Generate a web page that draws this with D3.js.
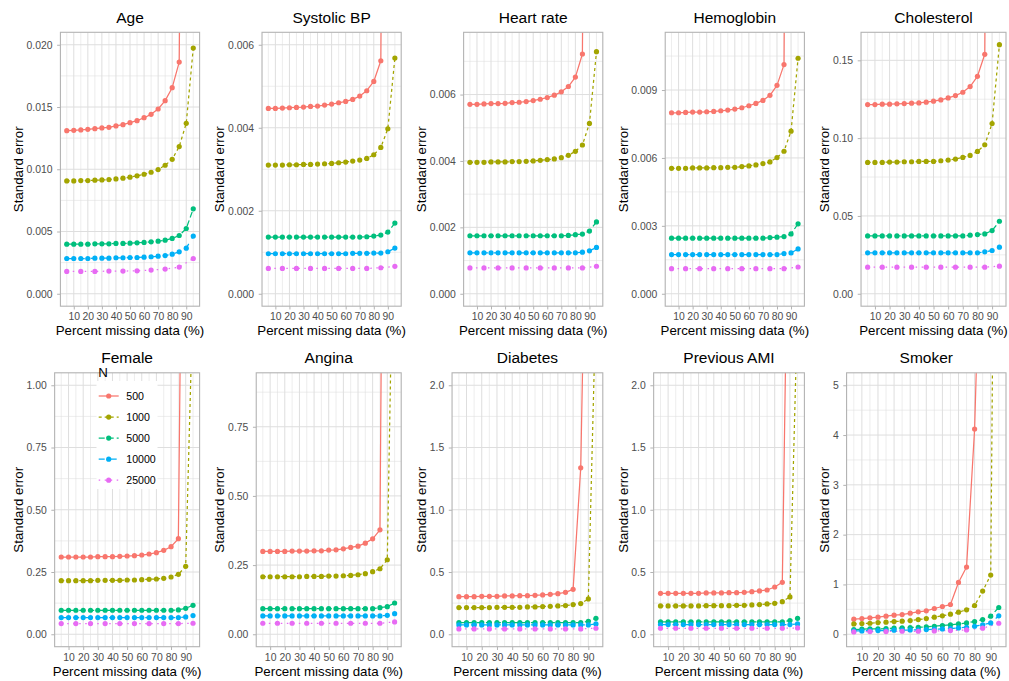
<!DOCTYPE html>
<html><head><meta charset="utf-8">
<script src="https://cdn.jsdelivr.net/npm/d3@7"></script>
<style>
html,body{margin:0;padding:0;background:#fff;}
</style></head><body>
<svg id="chart" width="1009" height="681"></svg>
<script>
// ---------------- data ----------------
const pctAll = [5,10,15,20,25,30,35,40,45,50,55,60,65,70,75,80,85,90,95];
const pctOdd = [5,15,25,35,45,55,65,75,85,95];
const xTickValues = [10,20,30,40,50,60,70,80,90];
const sampleSizes = ["500","1000","5000","10000","25000"];
const seriesColors = ["#F8766D","#A3A500","#00BF7D","#00B0F6","#E76BF3"];
const seriesDash = [null,"3,3","6,3","6,6","1.5,4.5"];
const panelTitles = ["Age","Systolic BP","Heart rate","Hemoglobin","Cholesterol",
                     "Female","Angina","Diabetes","Previous AMI","Smoker"];
const yLimits = [0.02, 0.006, 0.0075, 0.011, 0.16, 1.0, 0.9, 2.0, 2.0, 5.0];
const yTickValues = [
  [0,0.005,0.01,0.015,0.02],
  [0,0.002,0.004,0.006],
  [0,0.002,0.004,0.006],
  [0,0.003,0.006,0.009],
  [0,0.05,0.10,0.15],
  [0,0.25,0.5,0.75,1.0],
  [0,0.25,0.5,0.75],
  [0,0.5,1.0,1.5,2.0],
  [0,0.5,1.0,1.5,2.0],
  [0,1,2,3,4,5]
];
const yTickFormats = [".3f",".3f",".3f",".3f",".2f",".2f",".2f",".1f",".1f",".0f"];

// Standard errors: [N=500, N=1000, N=5000, N=10000, N=25000]
const seAge = [
  [0.01310,0.01313,0.01316,0.01321,0.01326,0.01332,0.01337,0.01348,0.01358,0.01374,0.01390,0.01414,0.01441,0.01484,0.01551,0.01655,0.01861,0.09],
  [0.00906,0.00906,0.00909,0.00909,0.00912,0.00914,0.00917,0.00922,0.00928,0.00936,0.00947,0.00960,0.00976,0.00997,0.01032,0.01080,0.01182,0.01369,0.01973],
  [0.00398,0.00398,0.00398,0.00398,0.00401,0.00401,0.00401,0.00404,0.00404,0.00406,0.00409,0.00412,0.00417,0.00422,0.00430,0.00444,0.00468,0.00524,0.00682],
  [0.00283,0.00283,0.00283,0.00283,0.00286,0.00286,0.00286,0.00289,0.00289,0.00291,0.00291,0.00294,0.00297,0.00302,0.00307,0.00318,0.00337,0.00366,0.00463],
  [0.00179,0.00179,0.00179,0.00182,0.00182,0.00184,0.00190,0.00198,0.00214,0.00283]
];
const seSystolicBP = [
  [0.004466,0.004466,0.004474,0.004482,0.00449,0.004498,0.004514,0.004522,0.004546,0.00457,0.004602,0.004635,0.004683,0.004763,0.004892,0.005116,0.005614,0.03],
  [0.0031,0.0031,0.0031,0.003108,0.003108,0.003116,0.003116,0.003124,0.003133,0.003141,0.003157,0.003173,0.003197,0.003221,0.003261,0.003349,0.003526,0.003976,0.005679],
  [0.001365,0.001365,0.001365,0.001365,0.001365,0.001365,0.001365,0.001365,0.001365,0.001365,0.001365,0.001365,0.001365,0.001365,0.001373,0.00139,0.001414,0.001486,0.001703],
  [0.000964,0.000964,0.000964,0.000964,0.000964,0.000964,0.000964,0.000964,0.000964,0.000964,0.000964,0.000964,0.000972,0.000972,0.000972,0.00098,0.00098,0.001012,0.0011],
  [0.00061,0.00061,0.00061,0.00061,0.00061,0.00061,0.00061,0.00061,0.000626,0.00066]
];
const seHeartRate = [
  [0.005707,0.005707,0.005717,0.005727,0.005727,0.005737,0.005758,0.005768,0.005788,0.005818,0.005859,0.005909,0.00598,0.006081,0.006242,0.006525,0.007222,0.04],
  [0.00396,0.00396,0.00396,0.00397,0.00397,0.00397,0.00398,0.00398,0.00399,0.0040,0.00402,0.00404,0.00406,0.0041,0.00417,0.00429,0.00448,0.00513,0.00729],
  [0.001747,0.001747,0.001747,0.001747,0.001747,0.001747,0.001747,0.001747,0.001747,0.001747,0.001747,0.001747,0.001747,0.001747,0.001758,0.001778,0.001798,0.001889,0.002162],
  [0.001232,0.001232,0.001232,0.001232,0.001232,0.001232,0.001232,0.001232,0.001232,0.001232,0.001232,0.001232,0.001232,0.001232,0.001232,0.001232,0.001252,0.001293,0.001394],
  [0.000778,0.000778,0.000778,0.000778,0.000778,0.000778,0.000778,0.000778,0.000778,0.000828]
];
const seHemoglobin = [
  [0.007995,0.007995,0.00801,0.008025,0.008025,0.00804,0.008054,0.008084,0.008113,0.008158,0.008217,0.008305,0.008409,0.008542,0.008764,0.009207,0.010123,0.06],
  [0.005542,0.005542,0.005542,0.005557,0.005557,0.005557,0.005571,0.005571,0.005586,0.005586,0.005616,0.005645,0.00569,0.005749,0.005823,0.006015,0.006296,0.007182,0.010404],
  [0.002453,0.002453,0.002453,0.002453,0.002453,0.002453,0.002453,0.002453,0.002453,0.002453,0.002453,0.002453,0.002453,0.002453,0.002483,0.002498,0.002527,0.002645,0.003089],
  [0.001729,0.001729,0.001729,0.001729,0.001729,0.001729,0.001729,0.001729,0.001729,0.001729,0.001729,0.001729,0.001729,0.001729,0.001729,0.001729,0.001773,0.001803,0.00198],
  [0.001108,0.001108,0.001108,0.001108,0.001108,0.001108,0.001108,0.001108,0.001108,0.001182]
];
const seCholesterol = [
  [0.12158,0.12158,0.1218,0.1218,0.12201,0.12222,0.12244,0.12265,0.12308,0.12372,0.12457,0.12585,0.12735,0.12949,0.13312,0.13974,0.15385,0.9],
  [0.0844,0.0844,0.0844,0.08462,0.08462,0.08483,0.08483,0.08504,0.08504,0.08504,0.08547,0.0859,0.08654,0.08761,0.08889,0.09145,0.09573,0.1094,0.16004],
  [0.03718,0.03718,0.03718,0.03718,0.03718,0.03718,0.03718,0.03718,0.03718,0.03718,0.03718,0.03718,0.03718,0.03718,0.03761,0.03803,0.03846,0.0406,0.04658],
  [0.02628,0.02628,0.02628,0.02628,0.02628,0.02628,0.02628,0.02628,0.02628,0.02628,0.02628,0.02628,0.02628,0.02628,0.02628,0.02628,0.02692,0.02778,0.02991],
  [0.01709,0.01709,0.01709,0.01709,0.01709,0.01709,0.01709,0.01709,0.01709,0.01774]
];
const seFemale = [
  [0.3102,0.3102,0.3102,0.3102,0.3102,0.3115,0.3115,0.3115,0.3128,0.3142,0.3155,0.3182,0.3222,0.3275,0.3369,0.3516,0.3837,3.3],
  [0.2152,0.2152,0.2152,0.2152,0.2152,0.2166,0.2166,0.2166,0.2166,0.2179,0.2179,0.2193,0.2206,0.2219,0.2246,0.2299,0.2406,0.2727,1.36],
  [0.0963,0.0963,0.0963,0.0963,0.0963,0.0963,0.0963,0.0963,0.0963,0.0963,0.0963,0.0963,0.0963,0.0963,0.0963,0.0963,0.0976,0.1043,0.1163],
  [0.0668,0.0668,0.0668,0.0668,0.0668,0.0668,0.0668,0.0668,0.0668,0.0668,0.0668,0.0668,0.0668,0.0668,0.0668,0.0668,0.0668,0.0695,0.0749],
  [0.0428,0.0428,0.0428,0.0428,0.0428,0.0428,0.0428,0.0428,0.0428,0.0441]
];
const seAngina = [
  [0.2993,0.2993,0.2993,0.2993,0.3005,0.3005,0.3005,0.3017,0.3017,0.3041,0.3053,0.3089,0.3137,0.3185,0.3293,0.345,0.3774,4.0],
  [0.2079,0.2079,0.2079,0.2079,0.2079,0.2079,0.2091,0.2091,0.2091,0.2103,0.2103,0.2115,0.2127,0.2151,0.2188,0.226,0.2368,0.2692,1.77],
  [0.0925,0.0925,0.0925,0.0925,0.0925,0.0925,0.0925,0.0925,0.0925,0.0925,0.0925,0.0925,0.0925,0.0925,0.0925,0.0925,0.0961,0.0998,0.113],
  [0.0661,0.0661,0.0661,0.0661,0.0661,0.0661,0.0661,0.0661,0.0661,0.0661,0.0661,0.0661,0.0661,0.0661,0.0661,0.0661,0.0661,0.0685,0.0745],
  [0.0397,0.0397,0.0397,0.0397,0.0397,0.0397,0.0397,0.0397,0.0397,0.0445]
];
const seDiabetes = [
  [0.3021,0.3021,0.3021,0.3048,0.3048,0.3048,0.3075,0.3075,0.3102,0.3102,0.3128,0.3155,0.3209,0.3262,0.3369,0.361,1.337,4.6],
  [0.2139,0.2139,0.2139,0.2139,0.2139,0.2166,0.2166,0.2166,0.2166,0.2193,0.2193,0.2219,0.2246,0.2273,0.23,0.238,0.246,0.2834,2.68],
  [0.0936,0.0936,0.0936,0.0936,0.0936,0.0936,0.0936,0.0936,0.0936,0.0936,0.0936,0.0936,0.0936,0.0936,0.0936,0.0936,0.0936,0.104,0.128],
  [0.0749,0.0749,0.0749,0.0749,0.0749,0.0749,0.0749,0.0749,0.0749,0.0749,0.0749,0.0749,0.0749,0.0749,0.0749,0.0749,0.0749,0.0749,0.083],
  [0.0428,0.0428,0.0428,0.0428,0.0428,0.0428,0.0428,0.0428,0.0428,0.048]
];
const sePreviousAMI = [
  [0.3289,0.3289,0.3289,0.3289,0.3289,0.3289,0.3316,0.3316,0.3316,0.3342,0.3342,0.3369,0.3422,0.3476,0.3556,0.3797,0.4171,4.57],
  [0.2273,0.2273,0.2273,0.2273,0.2273,0.2273,0.2299,0.2299,0.2299,0.2299,0.2326,0.2326,0.2353,0.238,0.2433,0.2487,0.262,0.2995,2.64],
  [0.0989,0.0989,0.0989,0.0989,0.0989,0.0989,0.0989,0.0989,0.0989,0.0989,0.0989,0.0989,0.0989,0.0989,0.0989,0.0989,0.0989,0.1096,0.1283],
  [0.0775,0.0775,0.0775,0.0775,0.0775,0.0775,0.0775,0.0775,0.0775,0.0775,0.0775,0.0775,0.0775,0.0775,0.0775,0.0775,0.0775,0.0775,0.083],
  [0.0481,0.0481,0.0481,0.0481,0.0481,0.0481,0.0481,0.0481,0.0481,0.0508]
];
const seSmoker = [
  [0.302,0.315,0.329,0.342,0.362,0.383,0.396,0.423,0.45,0.47,0.517,0.557,0.597,1.04,1.349,4.121,9.7],
  [0.208,0.215,0.221,0.235,0.242,0.255,0.262,0.275,0.295,0.315,0.342,0.369,0.403,0.443,0.49,0.577,0.866,1.188,20],
  [0.094,0.101,0.107,0.107,0.114,0.121,0.128,0.134,0.141,0.148,0.161,0.174,0.188,0.208,0.228,0.255,0.295,0.362,0.537],
  [0.067,0.067,0.074,0.074,0.074,0.081,0.081,0.087,0.087,0.094,0.101,0.107,0.114,0.128,0.141,0.161,0.188,0.228,0.369],
  [0.047,0.054,0.054,0.06,0.06,0.067,0.074,0.087,0.121,0.221]
];
const panelSeries = [seAge, seSystolicBP, seHeartRate, seHemoglobin, seCholesterol,
                     seFemale, seAngina, seDiabetes, sePreviousAMI, seSmoker];

// ---------------- drawing ----------------
const FONT = "'Liberation Sans', Arial, Helvetica, sans-serif";
const svg = d3.select("#chart").attr("font-family", FONT);
const W = 1009, H = 681;
const cellW = 201.6, cellH = 340.5;
const tickFont = 10.4, axisTitleFont = 13.3, titleFont = 15.5;

function textWidth(str, size) {
  const t = svg.append("text").attr("font-size", size).text(str);
  const w = t.node().getComputedTextLength();
  t.remove();
  return w;
}

panelTitles.forEach((title, p) => {
  const col = p % 5, row = Math.floor(p / 5);
  const cx = col * cellW, cy = row * cellH;
  const fmt = d3.format(yTickFormats[p]);
  const ticks = yTickValues[p];
  const maxW = d3.max(ticks, t => textWidth(fmt(t), tickFont));
  const pl = cx + 26.2 + maxW + 8.2;
  const pr = cx + 199.6;
  const pt = cy + 32.3, pb = cy + 306.2;
  const L = yLimits[p];
  const x = d3.scaleLinear().domain([0.5, 99.5]).range([pl, pr]);
  const y = d3.scaleLinear().domain([-0.05 * L, 1.05 * L]).range([pb, pt]);

  const g = svg.append("g");
  // grid
  const step = ticks[1] - ticks[0];
  const yMinor = [ticks[0] - step / 2].concat(ticks.map(t => t + step / 2))
      .filter(v => v > y.domain()[0] && v < y.domain()[1]);
  const xMinor = pctOdd;
  g.append("g").selectAll("line.hm").data(yMinor).join("line")
    .attr("x1", pl).attr("x2", pr).attr("y1", d => y(d)).attr("y2", d => y(d))
    .attr("stroke", "#dedede").attr("stroke-width", 0.55);
  g.append("g").selectAll("line.vm").data(xMinor).join("line")
    .attr("y1", pt).attr("y2", pb).attr("x1", d => x(d)).attr("x2", d => x(d))
    .attr("stroke", "#dedede").attr("stroke-width", 0.55);
  g.append("g").selectAll("line.hM").data(ticks).join("line")
    .attr("x1", pl).attr("x2", pr).attr("y1", d => y(d)).attr("y2", d => y(d))
    .attr("stroke", "#dedede").attr("stroke-width", 1);
  g.append("g").selectAll("line.vM").data(xTickValues).join("line")
    .attr("y1", pt).attr("y2", pb).attr("x1", d => x(d)).attr("x2", d => x(d))
    .attr("stroke", "#dedede").attr("stroke-width", 1);

  // clip
  const clipId = "clip" + p;
  svg.append("clipPath").attr("id", clipId).append("rect")
    .attr("x", pl).attr("y", pt).attr("width", pr - pl).attr("height", pb - pt);
  const plot = g.append("g").attr("clip-path", `url(#${clipId})`);

  const series = panelSeries[p];
  const line = d3.line().x(d => x(d[0])).y(d => y(d[1]));
  const seriesPts = series.map((vals, k) => {
    const xs = k === 4 ? pctOdd : pctAll;
    return vals.map((v, i) => [xs[i], v]);
  });
  seriesPts.forEach((pts, k) => {
    plot.append("path").datum(pts).attr("d", line)
      .attr("fill", "none").attr("stroke", seriesColors[k])
      .attr("stroke-width", 1.25)
      .attr("stroke-dasharray", seriesDash[k])
      .attr("stroke-linejoin", "round");
  });
  seriesPts.forEach((pts, k) => {
    plot.append("g").selectAll("circle").data(pts).join("circle")
      .attr("cx", d => x(d[0])).attr("cy", d => y(d[1])).attr("r", 2.6)
      .attr("fill", seriesColors[k]);
  });

  // border
  g.append("rect").attr("x", pl).attr("y", pt).attr("width", pr - pl).attr("height", pb - pt)
    .attr("fill", "none").attr("stroke", "#b3b3b3").attr("stroke-width", 1.1);

  // axes
  const gy = g.append("g").attr("transform", `translate(${pl},0)`)
    .call(d3.axisLeft(y).tickValues(ticks).tickFormat(fmt).tickSize(3.3).tickPadding(4.6));
  gy.attr("font-family", FONT).attr("font-size", tickFont);
  gy.select(".domain").remove();
  gy.selectAll("line").attr("stroke", "#b3b3b3");
  gy.selectAll("text").attr("fill", "#4d4d4d");

  const gx = g.append("g").attr("transform", `translate(0,${pb})`)
    .call(d3.axisBottom(x).tickValues(xTickValues).tickFormat(d3.format("d")).tickSize(3.3).tickPadding(3.2));
  gx.attr("font-family", FONT).attr("font-size", tickFont);
  gx.select(".domain").remove();
  gx.selectAll("line").attr("stroke", "#b3b3b3");
  gx.selectAll("text").attr("fill", "#4d4d4d");

  // titles
  g.append("text").attr("x", (pl + pr) / 2).attr("y", cy + 22.7)
    .attr("text-anchor", "middle").attr("font-size", titleFont).attr("fill", "#000").text(title);
  g.append("text").attr("x", (pl + pr) / 2).attr("y", cy + 335.3)
    .attr("text-anchor", "middle").attr("font-size", axisTitleFont).attr("fill", "#000")
    .text("Percent missing data (%)");
  g.append("text").attr("transform", `translate(${cx + 22.7},${(pt + pb) / 2}) rotate(-90)`)
    .attr("text-anchor", "middle").attr("font-size", axisTitleFont).attr("fill", "#000")
    .text("Standard error");

  // legend inside Female panel
  if (p === 5) {
    const lg = svg.append("g");
    lg.append("rect").attr("x", cx + 96.5).attr("y", cy + 40.5).attr("width", 61).attr("height", 108)
      .attr("fill", "#fff");
    lg.append("text").attr("x", cx + 98.3).attr("y", cy + 36.5).attr("font-size", axisTitleFont)
      .attr("fill", "#000").text("N");
    sampleSizes.forEach((n, k) => {
      const ky = cy + 55.5 + k * 21.05;
      lg.append("line").attr("x1", cx + 98.7).attr("x2", cx + 118.7).attr("y1", ky).attr("y2", ky)
        .attr("stroke", seriesColors[k]).attr("stroke-width", 1.25)
        .attr("stroke-dasharray", seriesDash[k]);
      lg.append("circle").attr("cx", cx + 108.7).attr("cy", ky).attr("r", 2.6).attr("fill", seriesColors[k]);
      lg.append("text").attr("x", cx + 126.3).attr("y", ky).attr("dy", "0.35em")
        .attr("font-size", 10.6).attr("fill", "#000").text(n);
    });
  }
});
</script>
</body></html>
